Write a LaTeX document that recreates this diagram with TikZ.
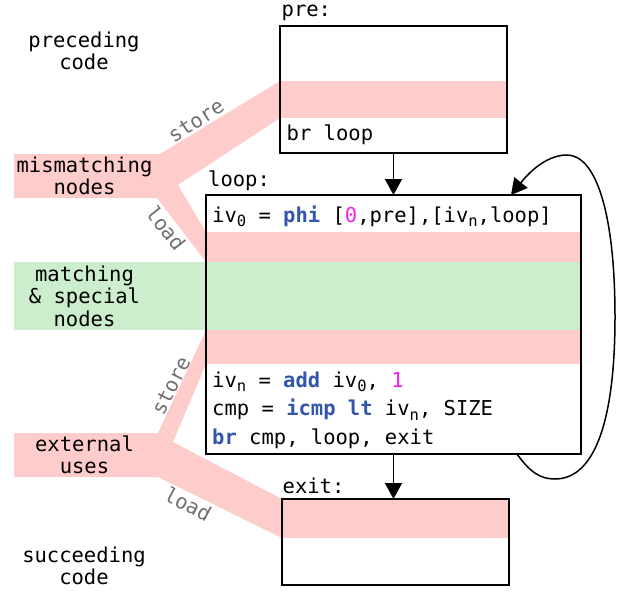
\documentclass[tikz,border=0pt]{standalone}
\usepackage{fontspec}
\setmainfont{DejaVu Sans Mono}
\usetikzlibrary{arrows.meta}
\definecolor{bandred}{HTML}{FFCCCC}
\definecolor{bandgreen}{HTML}{CCEECC}
\definecolor{kwblue}{HTML}{3355AA}
\definecolor{nummag}{HTML}{F020F0}
\definecolor{lblgray}{HTML}{707070}
\newcommand\kwd[1]{\textcolor{kwblue}{\bfseries #1}}
\newcommand\numc[1]{\textcolor{nummag}{#1}}
\newcommand\sbs[1]{\raisebox{-4.5pt}{\fontsize{15.5pt}{15.5pt}\selectfont #1}}
\begin{document}
\begin{tikzpicture}[x=1pt,y=-1pt, font=\fontsize{20.5pt}{28.3pt}\selectfont,
 box/.style={draw, line width=2pt, anchor=north west, inner sep=0pt, outer sep=0pt},
 code/.style={anchor=base west, inner sep=0pt},
 side/.style={align=center, inner sep=0pt, font=\fontsize{20.5pt}{22.5pt}\selectfont},
 lbl/.style={text=lblgray, inner sep=0pt},
 arr/.style={line width=1.5pt, -{Triangle[length=16pt,width=17pt]}},
 ]
\useasboundingbox (0,0) rectangle (618,591);
% bands
\fill[bandred] (280,81) rectangle (507,118);
\fill[bandred] (206,232) rectangle (581,262);
\fill[bandgreen] (14,262) rectangle (581,330);
\fill[bandred] (206,330) rectangle (581,364);
\fill[bandred] (282,499) rectangle (509,538);
% ribbons
\fill[bandred] (14,154) -- (160,154) -- (280,81) -- (280,118) -- (178,185) -- (206,232) -- (206,262) -- (157,198) -- (14,198) -- cycle;
\fill[bandred] (14,433) -- (158,433) -- (206,330) -- (206,364) -- (173,442) -- (282,499) -- (282,538) -- (158,477) -- (14,477) -- cycle;
% boxes
\node[box, minimum width=227pt, minimum height=127pt] (pre) at (280,26) {};
\node[box, minimum width=375pt, minimum height=259pt] (loop) at (206,195) {};
\node[box, minimum width=227pt, minimum height=86pt] (exit) at (282,499) {};
% labels of blocks
\node[code] (prel) at (281.5,17) {pre:};
\node[code] (brl) at (286.5,140) {br loop};
\node[code] (loopl) at (208,186) {loop:};
\node[code] (phil) at (212,222) {iv\sbs{0} = \kwd{phi} [\numc{0},pre],[iv\sbs{n},loop]};
\node[code] (addl) at (212,387.3) {iv\sbs{n} = \kwd{add} iv\sbs{0}, \numc{1}};
\node[code] (cmpl) at (212,415.7) {cmp = \kwd{icmp lt} iv\sbs{n}, SIZE};
\node[code] (brcl) at (212,444) {\kwd{br} cmp, loop, exit};
\node[code] (exitl) at (282.5,493) {exit:};
% side labels
\node[side] (prec) at (84,50.7) {preceding\\code};
\node[side] (mism) at (84.5,176) {mismatching\\nodes};
\node[side] (match) at (84.5,296) {matching\\\& special\\nodes};
\node[side] (ext) at (84.5,455) {external\\uses};
\node[side] (succ) at (84,566) {succeeding\\code};
% ribbon labels
\node[lbl, rotate=33] (st1) at (196,121) {store};
\node[lbl, rotate=-52] (ld1) at (166,228) {load};
\node[lbl, rotate=63] (st2) at (171,386) {store};
\node[lbl, rotate=-28] (ld2) at (188,504) {load};
% edges
\draw[arr] (pre.south) -- (loop.north);
\draw[arr] (loop.south) -- (loop.south |- exit.north);
\draw[arr] ([xshift=-64pt]loop.south east) .. controls (530,472) and (540,479) .. (555,479)
  .. controls (595,479) and (615,420) .. (615,317)
  .. controls (615,210) and (595,155) .. (567,155)
  .. controls (545,155) and (527,175) .. ([xshift=-70pt]loop.north east);
\end{tikzpicture}
\end{document}
